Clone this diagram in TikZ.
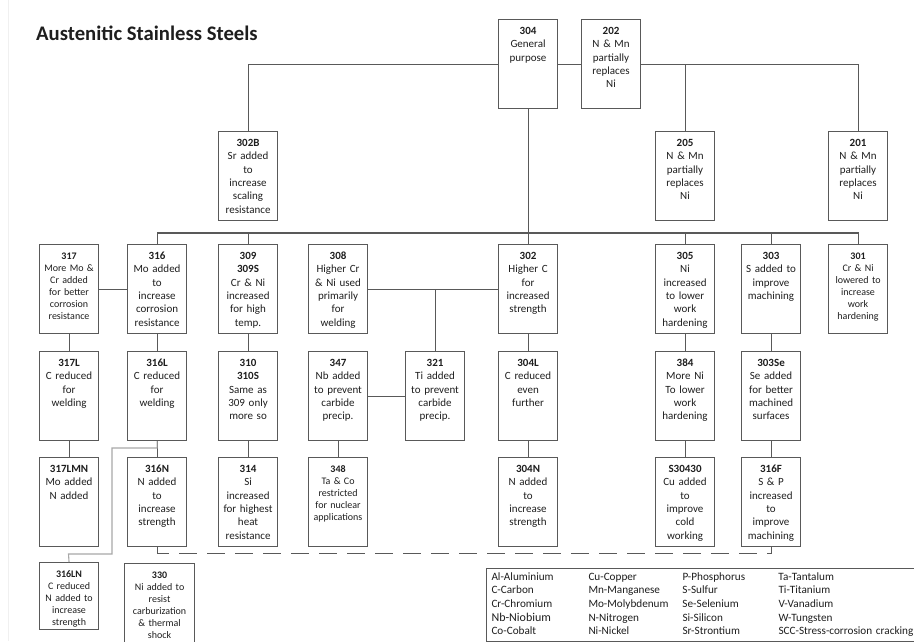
\documentclass[tikz,border=0pt]{standalone}
\usepackage{fontspec}
\setmainfont{Carlito}
\usepackage{tikz}
\usetikzlibrary{positioning}
\definecolor{trait}{HTML}{595959}
\definecolor{pale}{HTML}{A8A8A8}
\definecolor{encre}{HTML}{1E1E1E}

\begin{document}
\begin{tikzpicture}[x=1pt, y=-1pt,
    grade/.style={draw=trait, line width=1.1pt, anchor=north west, align=center,
      text width=55pt, inner xsep=2pt, inner ysep=4pt, text height=11pt, text depth=70pt,
      text=encre, font=\fontsize{11}{13.3}\selectfont},
    smalltext/.style={font=\fontsize{10}{12}\selectfont},
    link/.style={draw=trait, line width=1.1pt},
    legend/.style={draw=trait, line width=1pt, anchor=north west, inner xsep=5pt, inner ysep=2pt,
      text width=440pt, align=left, text=encre, font=\fontsize{11.2}{13.7}\selectfont}]
    \useasboundingbox (0,0) rectangle (914,641);
    \clip (0,0) rectangle (914,641);
    \draw[black!6] (8,0) -- (8,641);
    \node[anchor=base west, inner sep=0, text=encre, font=\fontsize{20.7}{24}\selectfont\bfseries]
      (title) at (36,40) {Austenitic Stainless Steels};
    % top rows
    \node[grade] (s304) at (498,19) {\textbf{304}\\General\\purpose};
    \node[grade] (s202) at (581,19) {\textbf{202}\\N \& Mn\\partially\\replaces\\Ni};
    \node[grade] (s302B) at (218,131) {\textbf{302B}\\Sr added\\to\\increase\\scaling\\resistance};
    \node[grade] (s205) at (655,131) {\textbf{205}\\N \& Mn\\partially\\replaces\\Ni};
    \node[grade] (s201) at (828,131) {\textbf{201}\\N \& Mn\\partially\\replaces\\Ni};
    % third row
    \node[grade, smalltext] (s317) at (39,244) {\textbf{317}\\More Mo \&\\Cr added\\for better\\corrosion\\resistance};
    \node[grade] (s316) at (127,244) {\textbf{316}\\Mo added\\to\\increase\\corrosion\\resistance};
    \node[grade] (s309) at (218,244) {\textbf{309}\\\textbf{309S}\\Cr \& Ni\\increased\\for high\\temp.};
    \node[grade] (s308) at (308,244) {\textbf{308}\\Higher Cr\\\& Ni used\\primarily\\for\\welding};
    \node[grade] (s302) at (498,244) {\textbf{302}\\Higher C\\for\\increased\\strength};
    \node[grade] (s305) at (655,244) {\textbf{305}\\Ni\\increased\\to lower\\work\\hardening};
    \node[grade] (s303) at (741,244) {\textbf{303}\\S added to\\improve\\machining};
    \node[grade, smalltext] (s301) at (828,244) {\textbf{301}\\Cr \& Ni\\lowered to\\increase\\work\\hardening};
    % fourth row
    \node[grade] (s317L) at (39,351) {\textbf{317L}\\C reduced\\for\\welding};
    \node[grade] (s316L) at (127,351) {\textbf{316L}\\C reduced\\for\\welding};
    \node[grade] (s310) at (218,351) {\textbf{310}\\\textbf{310S}\\Same as\\309 only\\more so};
    \node[grade] (s347) at (308,351) {\textbf{347}\\Nb added\\to prevent\\carbide\\precip.};
    \node[grade] (s321) at (405,351) {\textbf{321}\\Ti added\\to prevent\\carbide\\precip.};
    \node[grade] (s304L) at (498,351) {\textbf{304L}\\C reduced\\even\\further};
    \node[grade] (s384) at (655,351) {\textbf{384}\\More Ni\\To lower\\work\\hardening};
    \node[grade] (s303Se) at (741,351) {\textbf{303Se}\\Se added\\for better\\machined\\surfaces};
    % fifth row
    \node[grade] (s317LMN) at (39,457) {\textbf{317LMN}\\Mo added\\N added};
    \node[grade] (s316N) at (127,457) {\textbf{316N}\\N added\\to\\increase\\strength};
    \node[grade] (s314) at (218,457) {\textbf{314}\\Si\\increased\\for highest\\heat\\resistance};
    \node[grade, smalltext] (s348) at (308,457) {\textbf{348}\\Ta \& Co\\restricted\\for nuclear\\applications};
    \node[grade] (s304N) at (498,457) {\textbf{304N}\\N added\\to\\increase\\strength};
    \node[grade] (s30430) at (655,457) {\textbf{S30430}\\Cu added\\to\\improve\\cold\\working};
    \node[grade] (s316F) at (741,457) {\textbf{316F}\\S \& P\\increased\\to\\improve\\machining};
    % bottom
    \node[grade, smalltext, text depth=48pt] (s316LN) at (39,562) {\textbf{316LN}\\C reduced\\N added to\\increase\\strength};
    \node[grade, smalltext, text width=66pt, text depth=90pt] (s330) at (124,563)
      {\textbf{330}\\Ni added to\\resist\\carburization\\\& thermal\\shock};

    % connectors
    \coordinate (hub) at (528,233);
    \draw[link] (s302B.north) |- (s304.west);
    \draw[link] (s304.east) -- (s202.west);
    \draw[link] (s202.east) -| (s201.north);
    \draw[link] (s205.north) -- (s205.north |- s202.east);
    \draw[link] (s304.south) -- (s302.north);
    \draw[link] (s316.north) |- (hub) -| (s301.north);
    \foreach \g in {s309, s305, s303}
      \draw[link] (\g.north) -- (\g.north |- hub);
    \draw[link] (s317.east) -- (s316.west);
    \draw[link] (s308.east) -- (s302.west);
    \draw[link] (s321.north) -- (s321.north |- s308.east);
    \draw[link] (s347.east) -- (s321.west);
    \foreach \a/\b in {s317/s317L, s316/s316L, s309/s310, s302/s304L, s305/s384, s303/s303Se,
        s317L/s317LMN, s316L/s316N, s310/s314, s347/s348, s304L/s304N, s384/s30430, s303Se/s316F}
      \draw[link] (\a.south) -- (\b.north);
    \draw[link, draw=pale] (s316L.south) |- (112,448) |- (68.5,554) -- (s316LN.north);
    \draw[link, dash pattern=on 18pt off 10pt] (s316N.south) -- ++(0,6) -| (s316F.south);

    % key to the elements
    \node[legend] (key) at (486,568) {%
      \begin{tabular}{@{}p{97pt}@{}p{94pt}@{}p{96pt}@{}l@{}}
        Al-Aluminium & Cu-Copper & P-Phosphorus & Ta-Tantalum\\
        C-Carbon & Mn-Manganese & S-Sulfur & Ti-Titanium\\
        Cr-Chromium & Mo-Molybdenum & Se-Selenium & V-Vanadium\\
        {\fontsize{12}{13.7}\selectfont Nb-Niobium} & N-Nitrogen & Si-Silicon & W-Tungsten\\
        Co-Cobalt & Ni-Nickel & Sr-Strontium & SCC-Stress-corrosion cracking
      \end{tabular}};
  \end{tikzpicture}
\end{document}
